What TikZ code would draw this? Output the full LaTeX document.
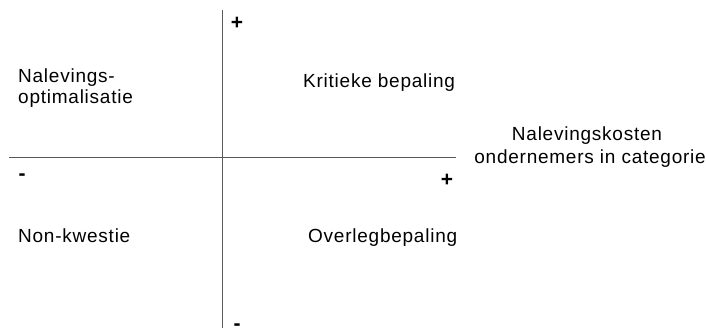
\documentclass[tikz,border=0pt]{standalone}
\usepackage{fontspec}
\setmainfont{Liberation Sans}[LetterSpace=4]
\begin{document}
\begin{tikzpicture}[x=1pt,y=-1pt,
  lbl/.style={font=\fontsize{19}{22}\selectfont, inner sep=0pt, anchor=base west},
  sgn/.style={font=\fontsize{21}{22}\selectfont\bfseries, inner sep=0pt},
  axis/.style={draw=black!65, line width=1.3pt}]
\useasboundingbox (0,0) rectangle (706,327);
\coordinate (vtop) at (222.5,10);
\coordinate (vbot) at (222.5,340);
\coordinate (hl) at (9,157.5);
\coordinate (hr) at (456,157.5);
\draw[axis] (vtop) -- (vbot);
\draw[axis] (hl) -- (hr);
\node[sgn] (ptop) at (237,23) {+};
\node[sgn] (pright) at (447,180) {+};
\node[sgn] (mleft) at (22,177) {-};
\node[sgn] (mbot) at (237,327.5) {-};
\node[lbl] (n1) at (18,82) {Nalevings-};
\node[lbl] (n2) at (18,103) {optimalisatie};
\node[lbl] (kb) at (303,87) {Kritieke bepaling};
\node[lbl, anchor=base] (nk1) at (587,140) {Nalevingskosten};
\node[lbl, anchor=base east] (nk2) at (706,163) {ondernemers in categorie};
\node[lbl] (nkw) at (18,242) {Non-kwestie};
\node[lbl] (ob) at (308,242) {Overlegbepaling};
\end{tikzpicture}
\end{document}
